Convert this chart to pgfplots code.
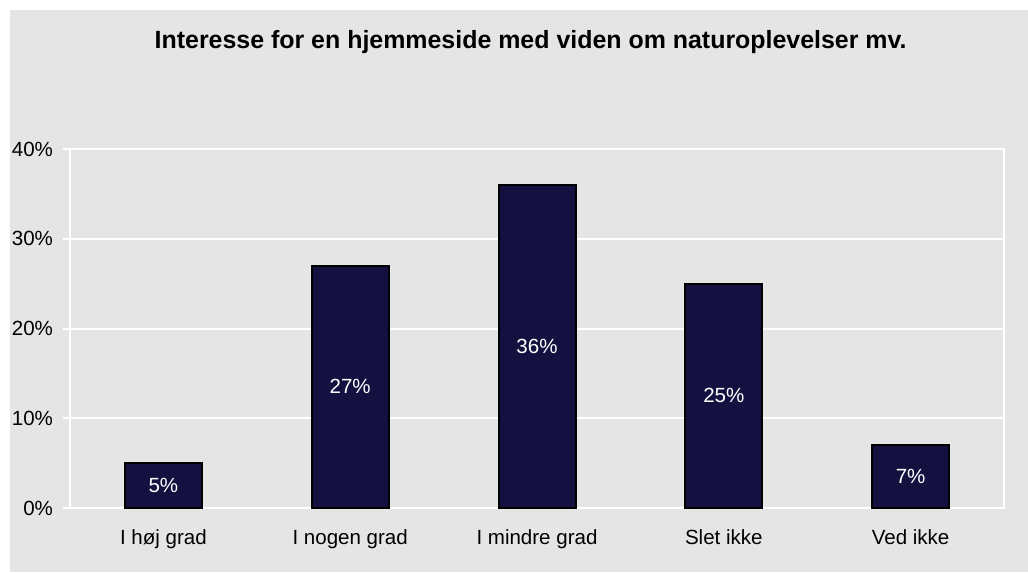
\documentclass[border=0pt]{standalone}
\usepackage{pgfplots}
\pgfplotsset{compat=1.18}
\usepackage{fontspec}
\setmainfont{Liberation Sans}
\definecolor{bg}{HTML}{E5E5E5}
\definecolor{barc}{HTML}{14103F}
\begin{document}
\begin{tikzpicture}
\fill[white] (0,0) rectangle (771pt,429pt);
\fill[bg] (7.5pt,0) rectangle (771pt,421.5pt);
\useasboundingbox (0,0) rectangle (771pt,429pt);
\node[font=\fontsize{18.7}{22}\selectfont\bfseries, anchor=center] at (398pt,397.5pt) {Interesse for en hjemmeside med viden om naturoplevelser mv.};
\begin{axis}[
  at={(52.5pt,48pt)}, anchor=south west,
  scale only axis, width=700.5pt, height=269.25pt,
  xmin=-0.5, xmax=4.5, ymin=0, ymax=40,
  xtick={0,1,2,3,4},
  xticklabels={I høj grad, I nogen grad, I mindre grad, Slet ikke, Ved ikke},
  ytick={0,10,20,30,40},
  yticklabel={\pgfmathprintnumber{\tick}\%},
  /pgf/number format/assume math mode=true,
  ymajorgrids, grid style={white, line width=1.5pt},
  axis line style={white, line width=1.5pt},
  tick style={white, line width=1.5pt},
  x tick style={draw=none},
  y tick style={white},
  ytick align=outside, ytick pos=left,
  major tick length=5.25pt,
  extra x ticks={-0.5,0.5,1.5,2.5,3.5,4.5},
  extra x tick labels={},
  extra x tick style={grid=none, major tick length=3.75pt, tick align=outside, tick pos=bottom, x tick style={white, line width=1.5pt}},
  ticklabel style={font=\fontsize{15.4}{18}\selectfont, text=black},
  yticklabel style={xshift=-4pt},
  xticklabel style={yshift=-13pt},
  axis background/.style={fill=bg},
]
\addplot[ybar, bar width=57.75pt, fill=barc, draw=black, line width=1.5pt,
  visualization depends on={y \as \rawy},
  nodes near coords={\pgfmathprintnumber{\pgfplotspointmeta}\%},
  nodes near coords style={white, anchor=center, font=\fontsize{15.4}{18}\selectfont, /pgf/number format/assume math mode=true,
    shift={(axis direction cs:0,-\rawy/2)}},
] coordinates {(0,5) (1,27) (2,36) (3,25) (4,7)};
\end{axis}
\end{tikzpicture}
\end{document}
